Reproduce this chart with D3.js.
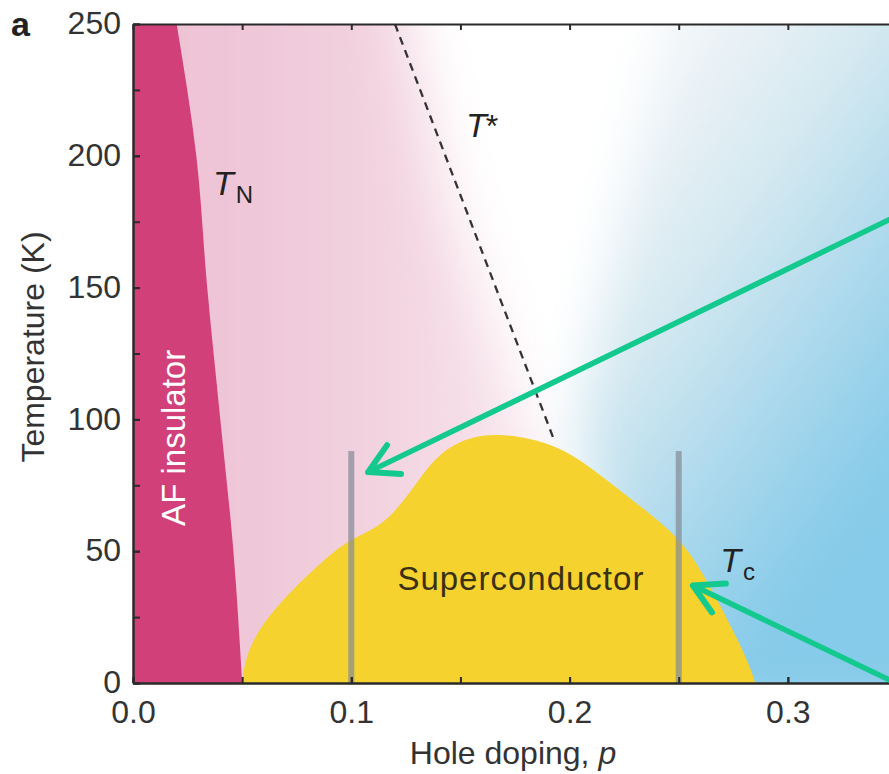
<!DOCTYPE html>
<html>
<head>
<meta charset="utf-8">
<script src="https://cdn.jsdelivr.net/npm/d3@7/dist/d3.min.js"></script>
<style>
  html, body { margin: 0; padding: 0; background: #fff; }
  svg { display: block; }
  text { font-family: "Liberation Sans", Arial, Helvetica, sans-serif; }
</style>
</head>
<body>
<svg id="chart" width="889" height="774"></svg>
<script>
// Axis ticks
const tempTicks = [0, 50, 100, 150, 200, 250];
const tempMinorTicks = [0, 25, 50, 75, 100, 125, 150, 175, 200, 225, 250];
const dopingTicks = [0, 0.1, 0.2, 0.3];
const dopingTickLabels = ["0.0", "0.1", "0.2", "0.3"];
const dopingMinorTicks = [0, 0.05, 0.1, 0.15, 0.2, 0.25, 0.3, 0.35];

// Néel temperature boundary of the antiferromagnetic insulator
const neelP = [0.020, 0.029, 0.034, 0.040, 0.046, 0.050];
const neelT = [250, 200, 150, 100, 50, 0];

// Superconducting dome T_c(p)
const domeP = [0.050, 0.0505, 0.052, 0.055, 0.060, 0.068, 0.080, 0.092, 0.100, 0.107, 0.115, 0.122, 0.130, 0.138, 0.148, 0.165, 0.194, 0.2125, 0.2277, 0.2506, 0.263, 0.279, 0.284, 0.285];
const domeT = [0, 4, 10, 16, 23, 31, 41, 50, 54.5, 57, 61, 67, 76, 85, 91.5, 95.5, 91, 80, 70, 55.5, 39, 13.5, 3, 0];

// Pseudogap crossover T*
const pseudogapP = [0.120, 0.193];
const pseudogapT = [250, 92];

// Doping levels of the two samples (vertical bars)
const sampleP = [0.10, 0.25];
const sampleTmax = 88;

// Arrows pointing at the two samples: [tailP, tailT, tipP, tipT]
const arrows = [
  [0.362, 182, 0.1077, 80],
  [0.362, -5, 0.2565, 37]
];

const svg = d3.select("#chart");
const x = d3.scaleLinear().domain([0, 0.35]).range([133, 897]);
const y = d3.scaleLinear().domain([0, 250]).range([683, 24]);

const defs = svg.append("defs");
defs.append("clipPath").attr("id", "plotClip")
  .append("rect")
  .attr("x", x(0)).attr("y", y(250))
  .attr("width", x(0.35) - x(0)).attr("height", y(0) - y(250));

// gradients and blurs for the normal-state regions
const pinkGrad = defs.append("linearGradient").attr("id", "pinkGrad")
  .attr("gradientUnits", "userSpaceOnUse")
  .attr("x1", x(0.03)).attr("y1", 0).attr("x2", x(0.19)).attr("y2", 0);
pinkGrad.append("stop").attr("offset", 0).attr("stop-color", "#eec3d5");
pinkGrad.append("stop").attr("offset", 0.5).attr("stop-color", "#f2d2df");
pinkGrad.append("stop").attr("offset", 1).attr("stop-color", "#f8e8ee");

const blueGrad = defs.append("linearGradient").attr("id", "blueGrad")
  .attr("gradientUnits", "userSpaceOnUse")
  .attr("x1", 560).attr("y1", 200).attr("x2", 900).attr("y2", 450);
blueGrad.append("stop").attr("offset", 0).attr("stop-color", "#f1f5f8");
blueGrad.append("stop").attr("offset", 0.35).attr("stop-color", "#d6e9f1");
blueGrad.append("stop").attr("offset", 0.7).attr("stop-color", "#aad8ec");
blueGrad.append("stop").attr("offset", 1).attr("stop-color", "#86cbe9");

defs.append("filter").attr("id", "softPink")
  .attr("x", "-20%").attr("y", "-20%").attr("width", "140%").attr("height", "140%")
  .append("feGaussianBlur").attr("stdDeviation", 28);
defs.append("filter").attr("id", "softBlue")
  .attr("x", "-20%").attr("y", "-20%").attr("width", "140%").attr("height", "140%")
  .append("feGaussianBlur").attr("stdDeviation", 26);

const plot = svg.append("g").attr("clip-path", "url(#plotClip)");
plot.append("rect")
  .attr("x", x(0)).attr("y", y(250))
  .attr("width", x(0.35) - x(0)).attr("height", y(0) - y(250))
  .attr("fill", "#ffffff");

const poly = d3.line().x(d => x(d[0])).y(d => y(d[1]));

// pseudogap / underdoped normal state (pink)
const pinkRegion = [[-0.02, 280], [0.118, 280], [0.145, 180], [0.178, 100], [0.196, 60], [0.22, -15], [-0.02, -15]];
plot.append("path").attr("d", poly(pinkRegion) + "Z")
  .attr("fill", "url(#pinkGrad)").attr("filter", "url(#softPink)");

// overdoped metal (blue)
const blueRegion = [[0.252, 280], [0.224, 180], [0.203, 100], [0.212, 60], [0.25, -15], [0.45, -15], [0.45, 280]];
plot.append("path").attr("d", poly(blueRegion) + "Z")
  .attr("fill", "url(#blueGrad)").attr("filter", "url(#softBlue)");

// AF insulator
const neel = neelP.map((p, i) => [p, neelT[i]]);
const afArea = d3.area()
  .y(d => y(d[1]))
  .x0(x(0))
  .x1(d => x(d[0]))
  .curve(d3.curveMonotoneY);
plot.append("path").attr("d", afArea(neel)).attr("fill", "#d2407a");

// T* dashed line
plot.append("path")
  .attr("d", poly(pseudogapP.map((p, i) => [p, pseudogapT[i]])))
  .attr("fill", "none").attr("stroke", "#333").attr("stroke-width", 2.3)
  .attr("stroke-dasharray", "8,6");

// superconducting dome
const dome = domeP.map((p, i) => [p, domeT[i]]);
const domeArea = d3.area()
  .x(d => x(d[0]))
  .y0(y(0))
  .y1(d => y(d[1]))
  .curve(d3.curveBasis);
plot.append("path").attr("d", domeArea(dome)).attr("fill", "#f5d22e");

// sample bars
plot.selectAll("rect.sample").data(sampleP).join("rect")
  .attr("class", "sample")
  .attr("x", d => x(d) - 3).attr("width", 6)
  .attr("y", y(sampleTmax)).attr("height", y(0) - y(sampleTmax))
  .attr("fill", "#858c96").attr("opacity", 0.72);

// region labels
svg.append("text")
  .attr("transform", `translate(${x(0.0238)},${y(93)}) rotate(-90)`)
  .attr("text-anchor", "middle")
  .attr("fill", "#ffffff").attr("font-size", 33)
  .text("AF insulator");

svg.append("text")
  .attr("x", x(0.1777)).attr("y", y(35.3))
  .attr("text-anchor", "middle")
  .attr("fill", "#3a3113").attr("font-size", 33)
  .attr("letter-spacing", 1)
  .text("Superconductor");

function tLabel(p, t, sub, sup) {
  const txt = svg.append("text").attr("x", x(p)).attr("y", y(t))
    .attr("fill", "#222").attr("font-size", 34);
  txt.append("tspan").attr("font-style", "italic").text("T");
  if (sub) txt.append("tspan").attr("font-size", 24).attr("dx", 2).attr("dy", 8).text(sub);
  if (sup) txt.append("tspan").attr("font-size", 32).attr("dx", -1).text(sup);
}
tLabel(0.0366, 185, "N", null);
tLabel(0.1525, 207, null, "*");
tLabel(0.269, 42, "c", null);

// axes
const axisColor = "#2a2a2a";
function styleAxis(g) {
  g.select(".domain").attr("stroke", axisColor).attr("stroke-width", 2);
  g.selectAll(".tick line").attr("stroke", axisColor).attr("stroke-width", 2);
  g.selectAll(".tick text").attr("fill", "#333").attr("font-size", 32)
    .attr("font-family", "Liberation Sans, Arial, sans-serif");
}

// minor ticks (no labels)
svg.append("g").attr("transform", `translate(0,${y(0)})`)
  .call(d3.axisBottom(x).tickValues(dopingMinorTicks).tickSize(-6).tickSizeOuter(0).tickFormat(""))
  .call(styleAxis);
svg.append("g").attr("transform", `translate(0,${y(250)})`)
  .call(d3.axisTop(x).tickValues(dopingMinorTicks).tickSize(-6).tickSizeOuter(0).tickFormat(""))
  .call(styleAxis);
svg.append("g").attr("transform", `translate(${x(0)},0)`)
  .call(d3.axisLeft(y).tickValues(tempMinorTicks).tickSize(-7).tickSizeOuter(0).tickFormat(""))
  .call(styleAxis);

// labelled ticks
svg.append("g").attr("transform", `translate(0,${y(0)})`)
  .call(d3.axisBottom(x).tickValues(dopingTicks).tickSize(-6).tickSizeOuter(0).tickPadding(17)
    .tickFormat((d, i) => dopingTickLabels[i]))
  .call(styleAxis);
svg.append("g").attr("transform", `translate(${x(0)},0)`)
  .call(d3.axisLeft(y).tickValues(tempTicks).tickSize(-7).tickSizeOuter(0).tickPadding(12)
    .tickFormat(d3.format("d")))
  .call(g => g.selectAll(".tick text").attr("dy", "0.3em"))
  .call(styleAxis);

// axis titles
const xTitle = svg.append("text")
  .attr("x", 513).attr("y", 764)
  .attr("text-anchor", "middle").attr("fill", "#333").attr("font-size", 32);
xTitle.append("tspan").text("Hole doping, ");
xTitle.append("tspan").attr("font-style", "italic").text("p");

svg.append("text")
  .attr("transform", "translate(44,347) rotate(-90)")
  .attr("text-anchor", "middle").attr("fill", "#333").attr("font-size", 32)
  .text("Temperature (K)");

// panel letter
svg.append("text").attr("x", 11).attr("y", 36)
  .attr("font-size", 34).attr("font-weight", "bold").attr("fill", "#222")
  .text("a");

// arrows
const arrowColor = "#13c98e";
arrows.forEach(([p0, t0, p1, t1]) => {
  const x0 = x(p0), y0 = y(t0), x1 = x(p1), y1 = y(t1);
  const ang = Math.atan2(y0 - y1, x0 - x1);
  const L = 33, spread = 29 * Math.PI / 180;
  const b1 = [x1 + L * Math.cos(ang + spread), y1 + L * Math.sin(ang + spread)];
  const b2 = [x1 + L * Math.cos(ang - spread), y1 + L * Math.sin(ang - spread)];
  svg.append("line")
    .attr("x1", x0).attr("y1", y0).attr("x2", x1).attr("y2", y1)
    .attr("stroke", arrowColor).attr("stroke-width", 5.5).attr("stroke-linecap", "round");
  svg.append("path")
    .attr("d", `M${b1[0]},${b1[1]}L${x1},${y1}L${b2[0]},${b2[1]}`)
    .attr("fill", "none").attr("stroke", arrowColor).attr("stroke-width", 6)
    .attr("stroke-linecap", "round").attr("stroke-linejoin", "round");
});
</script>
</body>
</html>
